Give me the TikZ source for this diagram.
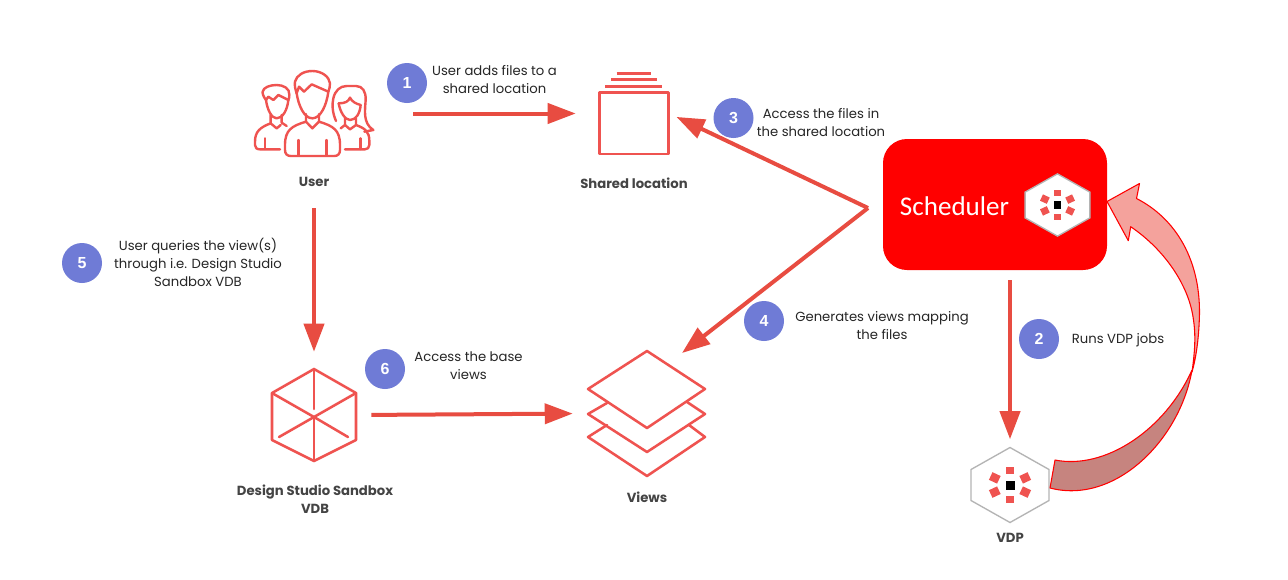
\documentclass[tikz,border=0pt]{standalone}
\usepackage{fontspec}
\setmainfont{Poppins}
\newfontfamily\schedfont{Carlito}
\newfontfamily\digitfont{Liberation Sans}
\usetikzlibrary{positioning, arrows.meta}

\definecolor{iconred}{HTML}{EF5350}
\definecolor{flowred}{HTML}{E84C41}
\definecolor{badgeblue}{HTML}{6F7BD6}
\definecolor{labelgrey}{HTML}{444444}
\definecolor{hexgrey}{HTML}{B4B4B4}
\definecolor{ribbonlight}{HTML}{F4A29C}
\definecolor{ribbondark}{HTML}{C6847F}

\tikzset{
	iconspot/.style n args={2}{inner sep=0, minimum width=#1, minimum height=#2},
	iconline/.style={draw=iconred, line width=1.9pt, line join=round, line cap=round},
	iconlbl/.style={font=\bfseries\fontsize{9.9}{13.5}\selectfont, text=labelgrey, align=center, inner sep=0},
	stepnote/.style={font=\fontsize{9.9}{13.5}\selectfont, text=black!85, align=center, inner sep=0},
	badge/.style={circle, fill=badgeblue, minimum size=30pt, inner sep=0, text=white, font=\digitfont\bfseries\fontsize{12}{12}\selectfont},
	flow/.style={draw=flowred, line width=3pt, -{Triangle[length=21pt, width=15pt]}},
	hexicon/.pic={
		\draw[hexgrey, fill=white, line width=1pt] (0,-37.5) -- (39,-15.5) -- (39,15.5) -- (0,37.5) -- (-39,15.5) -- (-39,-15.5) -- cycle;
		\fill[black] (-4.5,-4.5) rectangle (4.5,4.5);
		\foreach \a/\r/\h/\w in {90/14.5/3.6/4.4, 270/14.5/3.6/4.4, 25/16.8/4.5/4.2, 155/16.8/4.5/4.2, 205/16.8/4.5/4.2, 335/16.8/4.5/4.2}
			\fill[iconred, rotate=\a] (\r-\h,-\w) rectangle (\r+\h,\w);
	}
}

\begin{document}
\begin{tikzpicture}[x=.75pt, y=-.75pt, node distance=8pt]
	\useasboundingbox (0,0) rectangle (1288,579);
	\fill[white] (0,0) rectangle (1288,579);

	\node[iconspot={87.75pt}{61.5pt}] (user) at (313.5,113.5) {};
	\node[iconspot={53.25pt}{62.25pt}] (shared) at (633.5,113.5) {};
	\node[iconspot={64.5pt}{70.5pt}] (vdb) at (314,415) {};
	\node[iconspot={88.5pt}{93.75pt}] (views) at (647,413.5) {};
	\node[iconspot={58.5pt}{56.25pt}] (vdp) at (1010,485) {};
	\node[fill=red, rounded corners=18pt, iconspot={168pt}{98.25pt}] (sched) at (995,204.5) {};

	\node[iconlbl] (userlbl) at (314,182) {User};
	\node[iconlbl] (sharedlbl) at (634,183) {Shared location};
	\node[iconlbl] (vdblbl) at (315,499) {Design Studio Sandbox\\VDB};
	\node[iconlbl] (viewslbl) at (647,497) {Views};
	\node[iconlbl] (vdplbl) at (1010,538) {VDP};
	\node[text=white, font=\schedfont\fontsize{20.3}{24}\selectfont, inner sep=0] (schedlbl) at (954.5,206) {Scheduler};

	% user icon, drawn in a zoomed grid
	\begin{scope}[shift={(230,50)}, x=.25pt, y=-.25pt, iconline, line width=1.8pt]
		\draw (200,130) .. controls (196,118) and (193,105) .. (195,95) .. controls (200,75) and (222,63) .. (247,63) .. controls (275,63) and (298,80) .. (300,100) .. controls (300,110) and (298,118) .. (295,125);
		\draw (200,130) -- (207,110) -- (222,125) -- (245,103) -- (295,125);
		\draw (200,130) .. controls (205,165) and (222,205) .. (247,205) .. controls (272,205) and (290,165) .. (295,125);
		\draw (228,192) -- (228,215) -- (247,235) -- (267,215) -- (267,192);
		\draw (228,215) .. controls (185,228) and (165,240) .. (165,285) -- (165,300) .. controls (165,312) and (172,318) .. (182,318) -- (313,318) .. controls (323,318) and (330,312) .. (330,300) -- (330,285) .. controls (330,240) and (310,228) .. (267,215);
		\draw (205,270) -- (205,316);
		\draw (290,270) -- (290,316);
		\draw (108,150) .. controls (100,140) and (97,130) .. (98,125) .. controls (100,112) and (120,105) .. (140,105) .. controls (160,105) and (180,115) .. (178,135) .. controls (178,142) and (177,146) .. (175,150);
		\draw (108,150) -- (115,140) -- (130,150) -- (145,135) -- (175,150);
		\draw (108,150) .. controls (112,180) and (125,205) .. (140,205) .. controls (158,205) and (172,180) .. (175,150);
		\draw (122,195) -- (122,220) -- (140,235) -- (152,225);
		\draw (155,195) -- (155,218) -- (170,228);
		\draw (122,220) .. controls (90,232) and (75,245) .. (75,275) -- (75,285) .. controls (75,293) and (80,298) .. (90,298) -- (150,298);
		\draw (105,265) -- (105,297);
		\draw (318,213) .. controls (308,190) and (305,165) .. (310,145) .. controls (315,122) and (330,108) .. (350,108) -- (378,108) .. controls (398,108) and (408,125) .. (407,150) .. controls (405,180) and (398,220) .. (430,240) -- (403,245);
		\draw (326,160) .. controls (345,160) and (355,155) .. (360,143) .. controls (365,155) and (380,162) .. (392,165);
		\draw (326,160) .. controls (330,185) and (345,210) .. (360,210) .. controls (378,210) and (390,190) .. (392,165);
		\draw (345,205) -- (345,225) -- (332,235);
		\draw (378,205) -- (378,225) -- (360,238) -- (345,225);
		\draw (378,225) .. controls (405,235) and (418,245) .. (418,272) -- (418,285) .. controls (418,293) and (412,298) .. (405,298) -- (345,298);
		\draw (392,265) -- (392,297);
	\end{scope}

	% shared location icon
	\draw[iconline, line cap=butt] (599.3,92.7) rectangle (668.3,154);
	\draw[iconline, line cap=butt] (616.7,73.3) -- (651,73.3);
	\draw[iconline, line cap=butt] (611,79.7) -- (656.7,79.7);
	\draw[iconline, line cap=butt] (605,86.7) -- (662.3,86.7);

	% sandbox vdb icon
	\draw[iconline] (314,369) -- (356,393) -- (356,440) -- (314,461) -- (272,440) -- (272,393) -- cycle;
	\draw[iconline] (272,393) -- (314,417) -- (356,393);
	\draw[iconline] (314,369) -- (314,409);
	\draw[iconline] (314,417) -- (314,461);
	\draw[iconline] (279,437) -- (314,417) -- (348,437);

	% views icon
	\draw[iconline] (647,351) -- (705,389) -- (647,428) -- (588,389) -- cycle;
	\draw[iconline] (607,403) -- (588,414) -- (647,452) -- (705,414) -- (687,402);
	\draw[iconline] (607,425) -- (588,437) -- (647,476) -- (705,437) -- (689,425);

	\pic at (1010,485) {hexicon};
	\pic[scale=.83] at (1057.5,205) {hexicon};

	% curved arrow from vdp back to the scheduler
	\draw[red, fill=ribbonlight, line width=.8pt, line join=round] (1107,201.5) -- (1139.5,183.5) -- (1136.5,198.5) .. controls (1175,218) and (1202,260) .. (1199.3,320) .. controls (1198.5,340) and (1196,358) .. (1192,372) .. controls (1195,350) and (1196,335) .. (1193,316.7) .. controls (1188,285) and (1165,250) .. (1130.7,226.7) -- (1128.3,240.7) -- cycle;
	\draw[red, fill=ribbondark, line width=.8pt, line join=round] (1192,370) .. controls (1180,440) and (1115,505) .. (1050,488) -- (1055,460) .. controls (1105,470) and (1165,430) .. (1192,370);

	\coordinate (fork) at (868,208);
	\coordinate (viewsin) at (682,353);
	\draw[flow, shorten <=30.75pt, shorten >=16.5pt] (user.east) -- (shared.west);
	\draw[flow, shorten <=16pt, shorten >=12pt] (userlbl.south) -- (vdb.north);
	\draw[flow, shorten <=10.5pt, shorten >=11.25pt] (vdb.east) -- (views.west);
	\draw[flow, shorten <=7.5pt, shorten >=6pt] (vdp.north |- sched.south) -- (vdp.north);
	\draw[flow, shorten >=6pt] (fork) -- (shared.east);
	\draw[flow] (fork) -- (viewsin);

	\node[badge] (step1) at (407,83) {1};
	\node[badge] (step2) at (1039,339) {2};
	\node[badge] (step3) at (733.5,118) {3};
	\node[badge] (step4) at (764,321) {4};
	\node[badge] (step5) at (82,263) {5};
	\node[badge] (step6) at (385,369) {6};

	\node[stepnote] (note1) at (494.5,80) {User adds files to a\\shared location};
	\node[stepnote] (note2) at (1118,340) {Runs VDP jobs};
	\node[stepnote] (note3) at (821,122.5) {Access the files in\\the shared location};
	\node[stepnote] (note4) at (882,325.5) {Generates views mapping\\the files};
	\node[stepnote] (note5) at (198,262.5) {User queries the view(s)\\through i.e. Design Studio\\Sandbox VDB};
	\node[stepnote] (note6) at (468.5,366) {Access the base\\views};
\end{tikzpicture}
\end{document}
